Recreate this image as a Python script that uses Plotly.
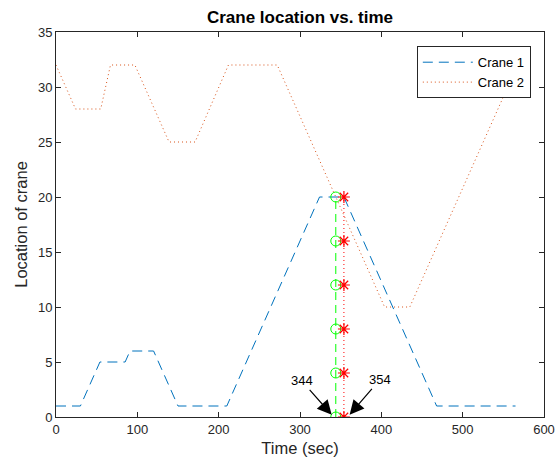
import plotly.graph_objects as go

# Crane 1 path
crane1_t = [0, 30, 54, 85, 91, 120, 150, 210, 324, 354, 468, 565]
crane1_x = [1, 1, 5, 5, 6, 6, 1, 1, 20, 20, 1, 1]
# Crane 2 path
crane2_t = [0, 24, 55, 67, 97, 139, 171, 212, 272, 404, 435, 553]
crane2_x = [32, 28, 28, 32, 32, 25, 25, 32, 32, 10, 10, 29.6]
# Marked times and levels
t_a = 344
t_b = 354
levels = [0, 4, 8, 12, 16, 20]

xticks = [0, 100, 200, 300, 400, 500, 600]
yticks = [0, 5, 10, 15, 20, 25, 30, 35]

blue = "rgb(0,114,189)"
orange = "rgb(217,83,25)"

fig = go.Figure()
fig.add_trace(go.Scatter(x=crane1_t, y=crane1_x, mode="lines", name="Crane 1",
                         line=dict(color=blue, width=1, dash="10px,6px")))
fig.add_trace(go.Scatter(x=crane2_t, y=crane2_x, mode="lines", name="Crane 2",
                         line=dict(color=orange, width=1, dash="1px,3px")))
fig.add_trace(go.Scatter(x=[t_a] * len(levels), y=levels, mode="lines+markers", showlegend=False,
                         line=dict(color="rgb(0,255,0)", width=1, dash="8px,5px"),
                         marker=dict(symbol="circle-open", size=10, color="rgb(0,255,0)",
                                     line=dict(width=1, color="rgb(0,255,0)"))))
fig.add_trace(go.Scatter(x=[t_b] * len(levels), y=levels, mode="lines+markers", showlegend=False,
                         line=dict(color="rgb(255,0,0)", width=1, dash="1px,3px"),
                         marker=dict(symbol="asterisk-open", size=10, color="rgb(255,0,0)",
                                     line=dict(width=1.2, color="rgb(255,0,0)"))))

fig.add_annotation(x=339, y=0.2, ax=-30, ay=-34, text="344", showarrow=True,
                   arrowhead=2, arrowsize=2.4, arrowwidth=1.2, arrowcolor="black", standoff=0,
                   font=dict(size=13, color="black"))
fig.add_annotation(x=361, y=0.2, ax=30, ay=-35, text="354", showarrow=True,
                   arrowhead=2, arrowsize=2.4, arrowwidth=1.2, arrowcolor="black", standoff=0,
                   font=dict(size=13, color="black"))

axis_common = dict(showgrid=False, zeroline=False, showline=True, linecolor="#262626",
                   linewidth=1, mirror="allticks", ticks="inside", ticklen=5,
                   tickcolor="#262626", tickfont=dict(size=13, color="#262626"),
                   automargin=False)

fig.update_layout(
    template="none",
    width=558, height=466,
    margin=dict(l=56, r=14, t=32, b=49),
    paper_bgcolor="white", plot_bgcolor="white",
    font=dict(family="Liberation Sans, Arial, sans-serif", color="#262626"),
    title=dict(text="<b>Crane location vs. time</b>", xref="paper", x=0.5, xanchor="center",
               yref="container", y=0.963, yanchor="middle", font=dict(size=17, color="black")),
    xaxis=dict(range=[0, 600], tickvals=xticks,
               title=dict(text="Time (sec)", font=dict(size=16.5, color="#262626"), standoff=6),
               **axis_common),
    yaxis=dict(range=[0, 35], tickvals=yticks,
               title=dict(text="Location of crane", font=dict(size=16.5, color="#262626"), standoff=6),
               **axis_common),
    legend=dict(x=0.973, y=0.963, xanchor="right", yanchor="top",
                bordercolor="#262626", borderwidth=1, bgcolor="white", itemwidth=50,
                font=dict(size=13, color="black"), tracegroupgap=0),
)

fig.write_html("out.html")
